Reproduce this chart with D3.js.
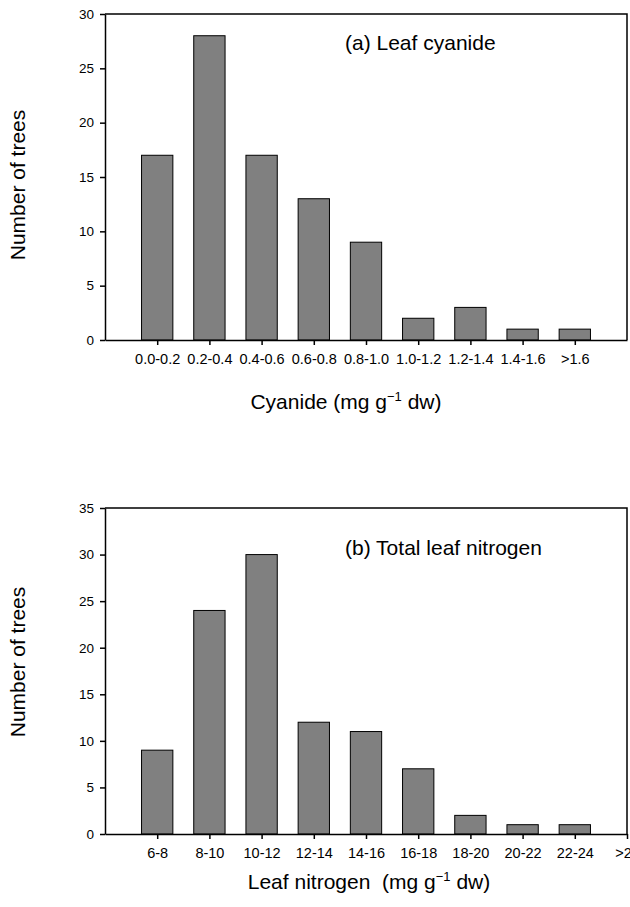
<!DOCTYPE html>
<html>
<head>
<meta charset="utf-8">
<title>Leaf cyanide and nitrogen</title>
<script src="https://cdn.jsdelivr.net/npm/d3@7"></script>
<style>
  body { margin: 0; background: #fff; }
  svg text { font-family: Arial, "Liberation Sans", sans-serif; fill: #000; }
  .bar { fill: #808080; stroke: #000; stroke-width: 1; }
  .axis path, .axis line { stroke: #000; stroke-width: 1.5; }
  .axis text { font-size: 13.5px; }
  .xaxis text { font-size: 14.5px; }
</style>
</head>
<body>
<div id="chart"></div>
<script>
// panel (a) cyanide
var cyanideBins = ["0.0-0.2", "0.2-0.4", "0.4-0.6", "0.6-0.8", "0.8-1.0", "1.0-1.2", "1.2-1.4", "1.4-1.6", ">1.6"];
var cyanideTrees = [17, 28, 17, 13, 9, 2, 3, 1, 1];
var cyanideTicks = [0, 5, 10, 15, 20, 25, 30];

// panel (b) nitrogen
var nitrogenBins = ["6-8", "8-10", "10-12", "12-14", "14-16", "16-18", "18-20", "20-22", "22-24", ">24"];
var nitrogenTrees = [9, 24, 30, 12, 11, 7, 2, 1, 1, 0];
var nitrogenTicks = [0, 5, 10, 15, 20, 25, 30, 35];

var svg = d3.select("#chart").append("svg")
  .attr("width", 630)
  .attr("height", 907);

function panel(opt) {
  var left = 105, right = 627;
  var x = d3.scaleLinear().domain([0, 10]).range([left, right]);
  var y = d3.scaleLinear().domain([0, opt.ymax]).range([opt.bottom, opt.top]);
  var slot = x(1) - x(0);
  var g = svg.append("g");

  // bars
  g.selectAll("rect.bar")
    .data(opt.values)
    .enter().append("rect")
      .attr("class", "bar")
      .attr("x", (d, i) => x(i + 1) - slot * 0.3)
      .attr("width", slot * 0.6)
      .attr("y", d => y(d))
      .attr("height", d => y(0) - y(d))
      .style("display", d => d > 0 ? null : "none");

  // frame top + right
  g.append("path")
    .attr("d", "M" + left + "," + y(opt.ymax) + "H" + right + "V" + y(0))
    .attr("fill", "none").attr("stroke", "#000").attr("stroke-width", 1.5);

  // axes
  g.append("g")
    .attr("class", "axis xaxis")
    .attr("transform", "translate(0," + y(0) + ")")
    .call(d3.axisBottom(x)
      .tickValues(d3.range(1, opt.bins.length + 1))
      .tickFormat(i => opt.bins[i - 1])
      .tickSize(5).tickSizeOuter(0).tickPadding(9));

  g.append("g")
    .attr("class", "axis")
    .attr("transform", "translate(" + left + ",0)")
    .call(d3.axisLeft(y)
      .tickValues(opt.yticks)
      .tickSize(5).tickSizeOuter(0).tickPadding(6));

  // labels
  g.append("text")
    .attr("transform", "translate(25," + opt.ylabelY + ") rotate(-90)")
    .attr("text-anchor", "middle")
    .style("font-size", "21px")
    .text("Number of trees");

  var xt = g.append("text")
    .attr("x", opt.xlabelX).attr("y", opt.xlabelBase)
    .attr("text-anchor", "middle")
    .style("font-size", "21px");
  xt.append("tspan").text(opt.xlabel + " (mg g");
  xt.append("tspan").attr("dy", -8).style("font-size", "13px").text("\u22121");
  xt.append("tspan").attr("dy", 8).text(" dw)");

  g.append("text")
    .attr("x", 345).attr("y", opt.titleBase)
    .style("font-size", "21px")
    .text(opt.title);
}

panel({
  bins: cyanideBins, values: cyanideTrees, yticks: cyanideTicks, ymax: 30,
  top: 14, bottom: 340, ylabelY: 185,
  xlabel: "Cyanide", xlabelX: 346, xlabelBase: 409,
  title: "(a) Leaf cyanide", titleBase: 50
});

panel({
  bins: nitrogenBins, values: nitrogenTrees, yticks: nitrogenTicks, ymax: 35,
  top: 508, bottom: 834, ylabelY: 662,
  xlabel: "Leaf nitrogen\u00a0", xlabelX: 369, xlabelBase: 889,
  title: "(b) Total leaf nitrogen", titleBase: 555
});
</script>
</body>
</html>
